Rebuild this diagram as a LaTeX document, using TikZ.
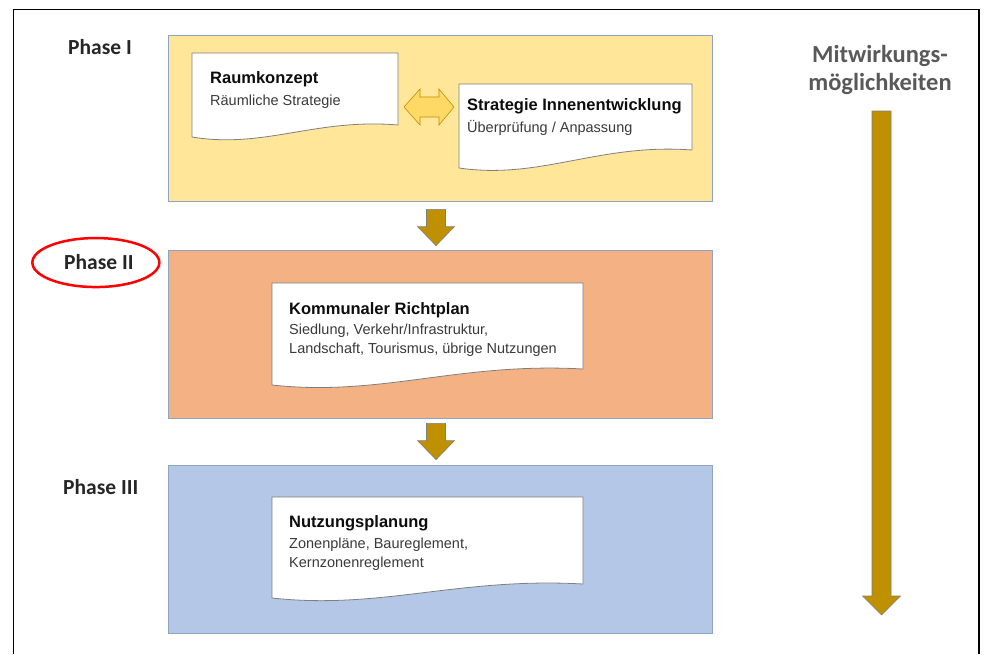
\documentclass[tikz,border=0pt]{standalone}
\usepackage{fontspec}
\setmainfont{Liberation Sans}
\newfontfamily\phasefont{Carlito}
\usetikzlibrary{calc}

\definecolor{phaseIfill}{HTML}{FFE699}
\definecolor{phaseIIfill}{HTML}{F4B183}
\definecolor{phaseIIIfill}{HTML}{B4C7E7}
\definecolor{boxrand}{HTML}{8EA4C4}
\definecolor{docrand}{HTML}{7F7F7F}
\definecolor{gold}{HTML}{BF9000}
\definecolor{hellgold}{HTML}{FFD966}
\definecolor{textgrau}{HTML}{3A3A3A}
\definecolor{mitgrau}{HTML}{595959}

% document page with wavy lower edge: x1, top, x2, left bottom, right bottom
\newcommand{\docpage}[5]{%
  \draw[docpage] (#1,#2) -- (#3,#2) -- (#3,#5)
    .. controls ($(#1,#5)!0.6!(#3,#5)+(0,-7)$) and ($(#1,#4)!0.35!(#3,#4)+(0,12)$) .. (#1,#4) -- cycle;}

% block arrow pointing down: top, tip, half shaft, half head, head length
\newcommand{\blockdown}[5]{%
  \draw[blockarrow] ($(#1)+(-#3,0)$) -- ($(#2)+(-#3,-#5)$) -- ($(#2)+(-#4,-#5)$) -- (#2)
    -- ($(#2)+(#4,-#5)$) -- ($(#2)+(#3,-#5)$) -- ($(#1)+(#3,0)$) -- cycle;}

\begin{document}
\begin{tikzpicture}[x=1pt, y=-1pt,
  phasebox/.style={draw=boxrand, line width=0.8pt, minimum width=544pt, minimum height=#1, inner sep=0},
  phaselabel/.style={anchor=base west, inner sep=0, text=black!85, font=\phasefont\fontsize{21.5}{24}\selectfont\bfseries},
  docpage/.style={draw=docrand, fill=white, line width=0.8pt},
  doctitle/.style={anchor=base west, inner sep=0, text=black!95, font=\fontsize{16.5}{20}\selectfont\bfseries},
  doctext/.style={anchor=north west, inner sep=0, align=left, text=textgrau, font=\fontsize{14.5}{19}\selectfont},
  blockarrow/.style={draw=docrand, fill=gold, line width=0.6pt},
  dblarrow/.style={draw=gold, fill=hellgold, line width=0.6pt}]

\useasboundingbox (0,0) rectangle (984,654);
\draw[line width=1.5pt] (13.5,654) -- (13.5,9.5) -- (979,9.5) -- (979,654);

% phases
\node[phasebox=166pt, fill=phaseIfill] (p1) at (440,118) {};
\node[phasebox=168pt, fill=phaseIIfill] (p2) at (440,334) {};
\node[phasebox=168pt, fill=phaseIIIfill] (p3) at (440,549) {};

\node[phaselabel] (l1) at (68,54) {Phase I};
\node[phaselabel] (l2) at (64,269) {Phase II};
\node[phaselabel] (l3) at (63,494) {Phase III};
\draw[red, line width=2.5pt] ($(l2.center)+(-3,1)$) ellipse [x radius=63.5pt, y radius=24.5pt];

% phase I
\docpage{192}{53}{398}{137}{125}
\node[doctitle] (raum) at (210,83) {Raumkonzept};
\node[doctext] (raumtxt) at (210,91.5) {\rule{0pt}{13.5pt}Räumliche Strategie};

\docpage{459}{84}{692}{168}{150}
\node[doctitle] (innen) at (467,110) {Strategie Innenentwicklung};
\node[doctext] (innentxt) at (467,118.5) {\rule{0pt}{13.5pt}Überprüfung / Anpassung};

\draw[dblarrow] (404,107) -- (420,89) -- (420,97) -- (439,97) -- (439,89) -- (454,107)
  -- (439,125) -- (439,117) -- (420,117) -- (420,125) -- cycle;

% phase II
\docpage{272}{283}{583}{385}{369}
\node[doctitle] (richt) at (289,314) {Kommunaler Richtplan};
\node[doctext] (richttxt) at (289,320.5) {\rule{0pt}{13.5pt}Siedlung, Verkehr/Infrastruktur,\\Landschaft, Tourismus, übrige Nutzungen};

% phase III
\docpage{272}{497}{583}{598}{584}
\node[doctitle] (nutz) at (289,527) {Nutzungsplanung};
\node[doctext] (nutztxt) at (289,534.5) {\rule{0pt}{13.5pt}Zonenpläne, Baureglement,\\Kernzonenreglement};

% arrows between phases
\coordinate (a1) at ($(p1.south)+(-4,8)$);
\coordinate (b1) at ($(p2.north)+(-4,-4)$);
\blockdown{a1}{b1}{9.5}{18.5}{19}
\coordinate (a2) at ($(p2.south)+(-4,5)$);
\coordinate (b2) at ($(p3.north)+(-4,-5)$);
\blockdown{a2}{b2}{9.5}{18.5}{19}

% Mitwirkung
\node[anchor=north, inner sep=0, align=center, text=mitgrau,
  font=\phasefont\fontsize{24.5}{28}\selectfont\bfseries] (mit) at (880,45) {Mitwirkungs-\\möglichkeiten};
\coordinate (mtop) at (881.5,111);
\coordinate (mtip) at (881.5,615);
\blockdown{mtop}{mtip}{9.5}{19}{19}
\end{tikzpicture}
\end{document}
